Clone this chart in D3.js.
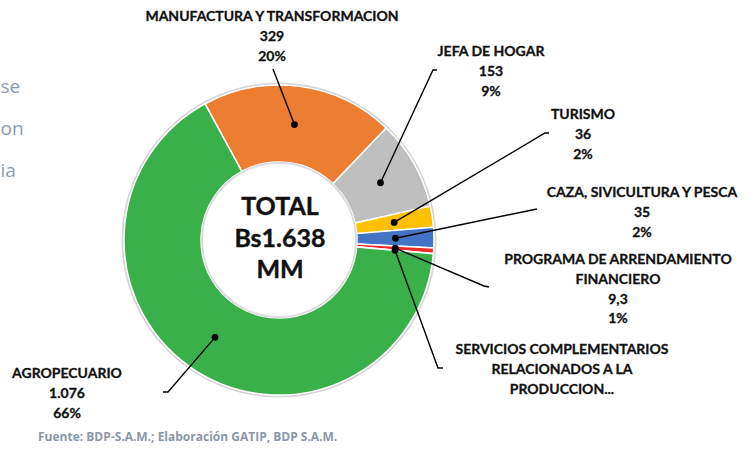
<!DOCTYPE html>
<html>
<head>
<meta charset="utf-8">
<script src="https://cdn.jsdelivr.net/npm/d3@7"></script>
<style>
  body { margin: 0; background: #fff; }
  svg { display: block; }
</style>
</head>
<body>
<svg id="chart" width="752" height="451"></svg>
<script>
// data (Bs millones)
const categories = ["MANUFACTURA Y TRANSFORMACION", "JEFA DE HOGAR", "TURISMO",
  "CAZA, SIVICULTURA Y PESCA", "PROGRAMA DE ARRENDAMIENTO FINANCIERO",
  "SERVICIOS COMPLEMENTARIOS RELACIONADOS A LA PRODUCCION...", "AGROPECUARIO"];
const values = [329, 153, 36, 35, 9.3, 0.5, 1076];
const valueLabels = ["329", "153", "36", "35", "9,3", null, "1.076"];
const pctLabels = ["20%", "9%", "2%", "2%", "1%", null, "66%"];
const colors = ["#ED7D31", "#BFBFBF", "#FFC000", "#4472C4", "#EE2A2A", "#3AB04B", "#3AB04B"];
const totalLines = ["TOTAL", "Bs1.638", "MM"];

// how each category name wraps in its label box
const nameLines = [
  ["MANUFACTURA Y TRANSFORMACION"],
  ["JEFA DE HOGAR"],
  ["TURISMO"],
  ["CAZA, SIVICULTURA Y PESCA"],
  ["PROGRAMA DE ARRENDAMIENTO", "FINANCIERO"],
  ["SERVICIOS COMPLEMENTARIOS", "RELACIONADOS A LA", "PRODUCCION..."],
  ["AGROPECUARIO"]
];

// label placement: x center, first baseline, leader end points
const labelPos = [
  {x: 272, y: 21, lead: [[273, 69]]},
  {x: 491, y: 56, lead: [[433, 70], [437, 70]]},
  {x: 583, y: 119, lead: [[545, 133], [549, 133]]},
  {x: 642, y: 197, lead: [[537, 209]]},
  {x: 618, y: 264, lead: [[484, 286], [489, 287]]},
  {x: 562, y: 354, lead: [[438, 368], [443, 368]]},
  {x: 67, y: 378, lead: [[168, 392], [163, 392]]}
];

const svg = d3.select("#chart");
const cx = 279, cy = 240;
const rIn = 78, rOut = 155;

const pie = d3.pie().sort(null).startAngle(-28.5 * Math.PI / 180)
  .endAngle((360 - 28.5) * Math.PI / 180);
const arcs = pie(values);
const arc = d3.arc().innerRadius(rIn).outerRadius(rOut);

// left cut-off paragraph fragments
const frag = svg.append("g")
  .attr("font-family", "'Open Sans', sans-serif")
  .attr("font-size", 19)
  .attr("fill", "#8B9BAE");
[["se", 93], ["on", 135], ["ia", 177]].forEach(function(d) {
  frag.append("text").attr("x", 0.5).attr("y", d[1]).text(d[0]);
});

const g = svg.append("g").attr("transform", "translate(" + cx + "," + cy + ")");

// soft edge round the ring
g.append("circle").attr("r", rOut + 1.5).attr("fill", "none")
  .attr("stroke", "#d6d6d6").attr("stroke-width", 2);

g.selectAll("path.slice")
  .data(arcs)
  .enter().append("path")
  .attr("class", "slice")
  .attr("d", arc)
  .attr("fill", function(d, i) { return colors[i]; })
  .attr("stroke", "#fff")
  .attr("stroke-width", 1.5);

g.append("circle").attr("r", rIn - 1).attr("fill", "#fff")
  .attr("stroke", "#dcdcdc").attr("stroke-width", 2);

// center total
g.append("g")
  .attr("font-family", "Lato, sans-serif")
  .attr("font-weight", "bold")
  .attr("font-size", 25)
  .attr("fill", "#111")
  .attr("stroke", "#111")
  .attr("stroke-width", 0.4)
  .attr("text-anchor", "middle")
  .selectAll("text")
  .data(totalLines)
  .enter().append("text")
  .attr("x", 1)
  .attr("y", function(d, i) { return -25 + i * 31.5; })
  .text(function(d) { return d; });

// leader lines and dots
const mid = d3.arc().innerRadius((rIn + rOut) / 2).outerRadius((rIn + rOut) / 2);
const line = d3.line();
arcs.forEach(function(d, i) {
  const c = mid.centroid(d);
  const p0 = [cx + c[0], cy + c[1]];
  svg.append("path")
    .attr("d", line([p0].concat(labelPos[i].lead)))
    .attr("fill", "none")
    .attr("stroke", "#000")
    .attr("stroke-width", 1.4);
  svg.append("circle")
    .attr("cx", p0[0]).attr("cy", p0[1]).attr("r", 3.4)
    .attr("fill", "#000");
});

// labels
const labels = svg.append("g")
  .attr("font-family", "Lato, sans-serif")
  .attr("font-weight", "bold")
  .attr("font-size", 14)
  .attr("fill", "#111")
  .attr("stroke", "#111")
  .attr("stroke-width", 0.3)
  .attr("text-anchor", "middle");
categories.forEach(function(name, i) {
  const lines = nameLines[i].slice();
  if (valueLabels[i]) lines.push(valueLabels[i]);
  if (pctLabels[i]) lines.push(pctLabels[i]);
  const t = labels.append("text");
  lines.forEach(function(s, k) {
    t.append("tspan")
      .attr("x", labelPos[i].x)
      .attr("y", labelPos[i].y + k * 19.8)
      .text(s);
  });
});

// source note
svg.append("text")
  .attr("x", 38).attr("y", 441)
  .attr("font-family", "'Open Sans', sans-serif")
  .attr("font-weight", "bold")
  .attr("font-size", 12)
  .attr("fill", "#8A97A8")
  .text("Fuente: BDP-S.A.M.; Elaboración GATIP, BDP S.A.M.");
</script>
</body>
</html>
